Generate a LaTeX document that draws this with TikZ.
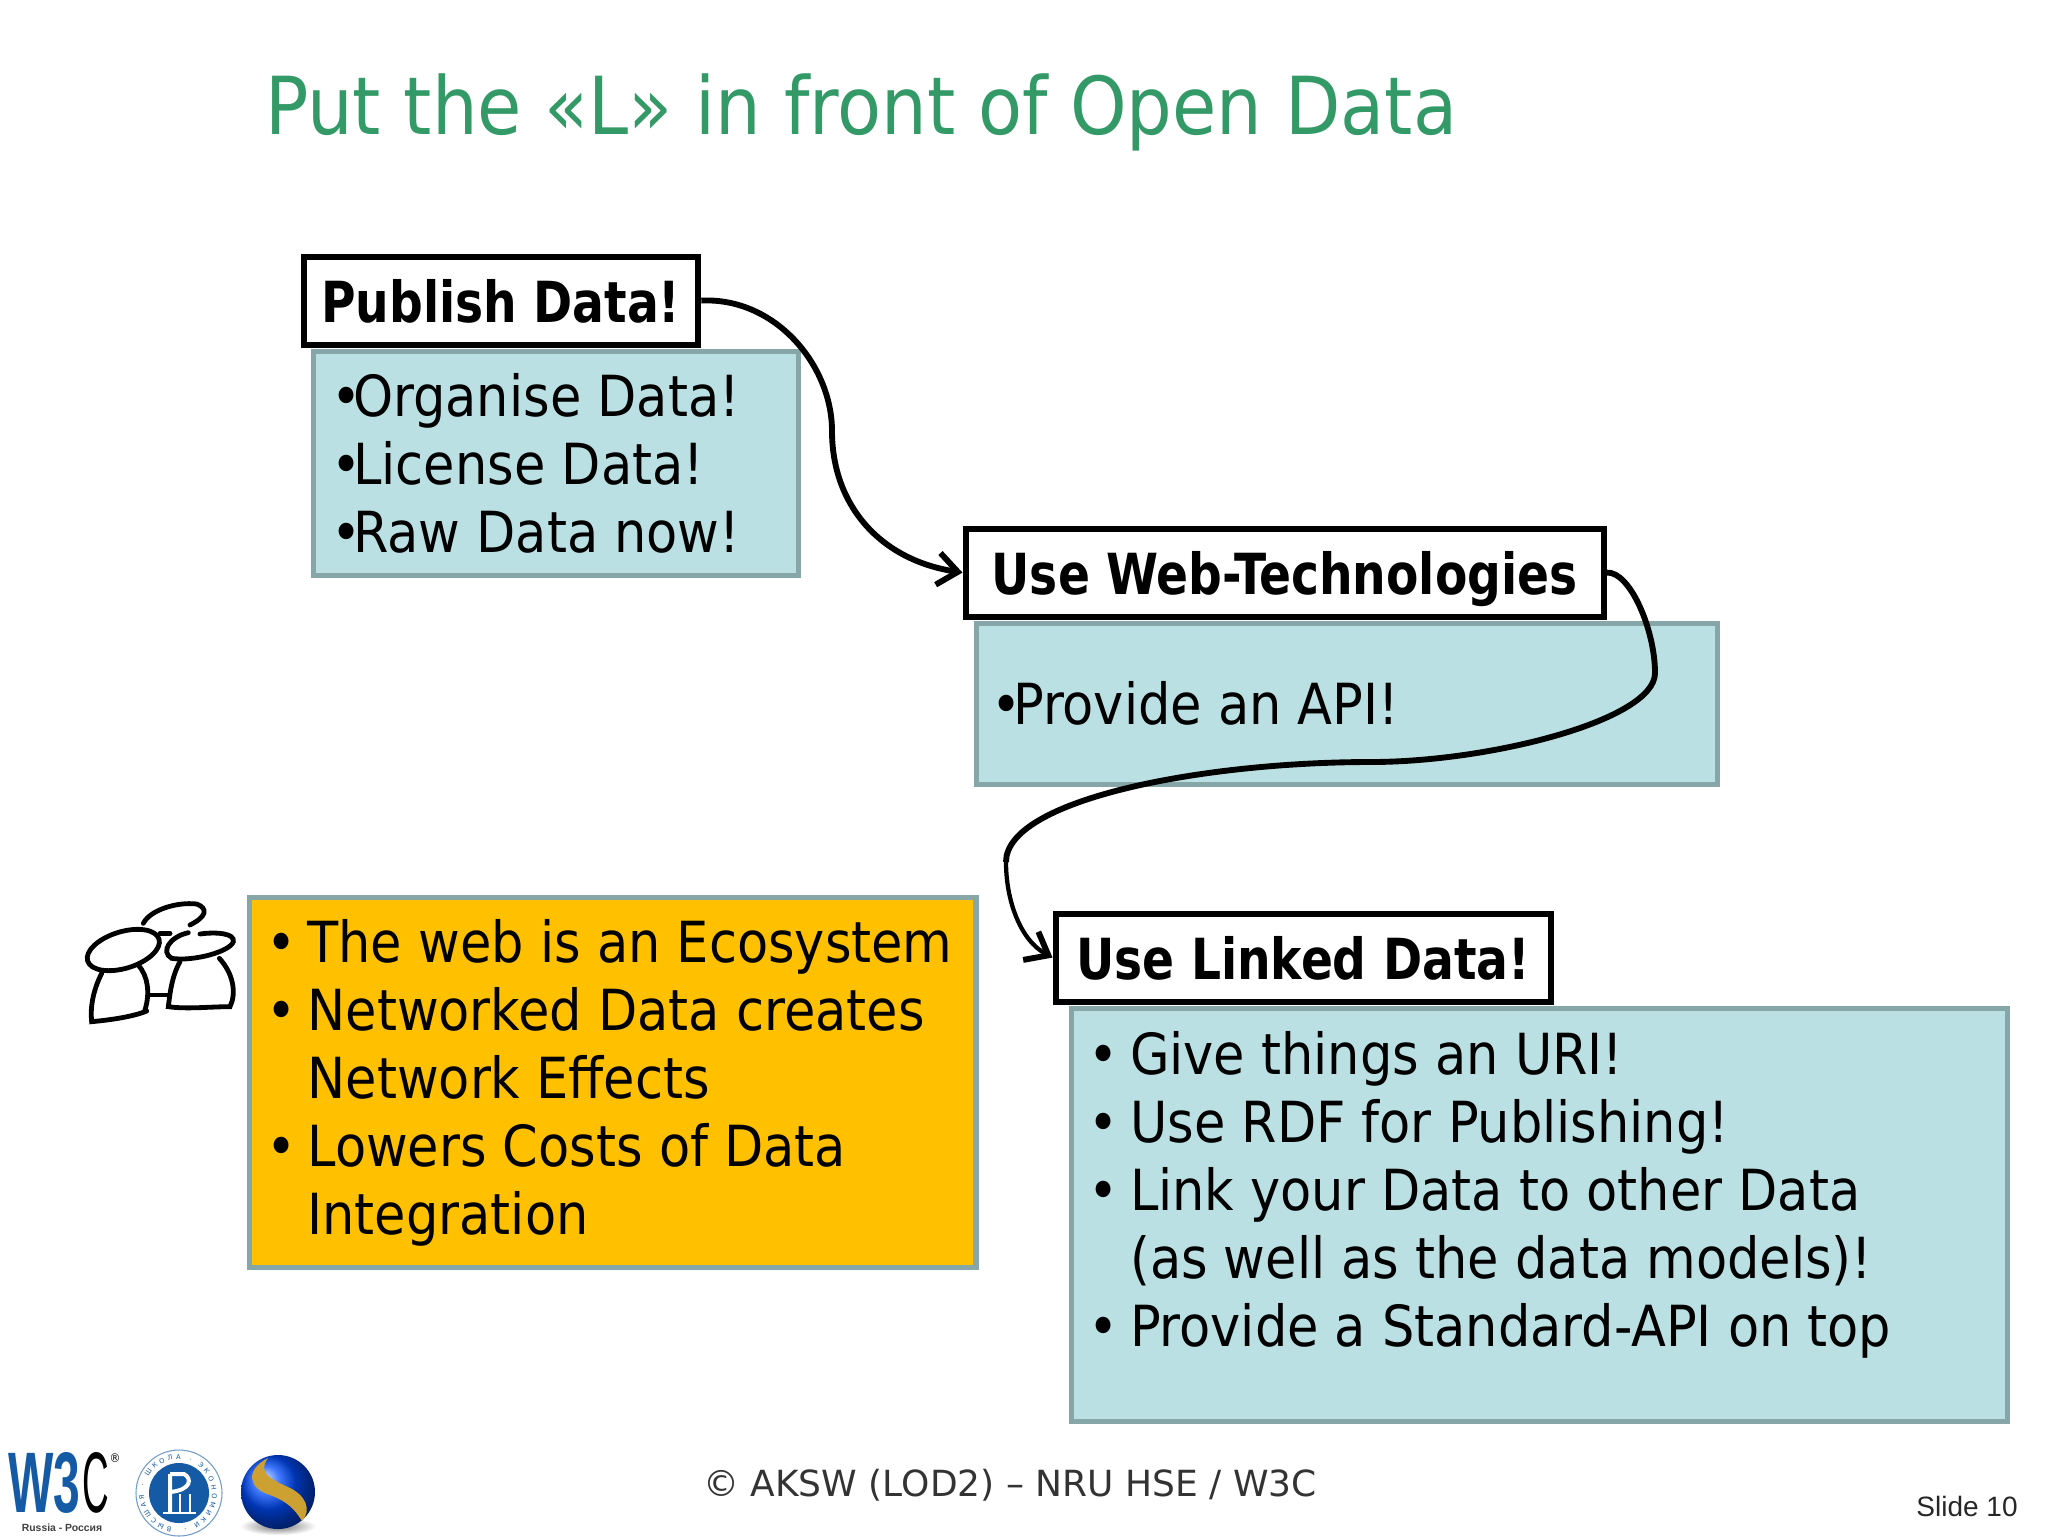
\documentclass[tikz,border=0pt]{standalone}
\usepackage{fontspec}
\setmainfont{DejaVu Sans Condensed}
\newfontfamily\headfont[FakeStretch=0.925]{DejaVu Sans Condensed Bold}
\newfontfamily\footfont{DejaVu Sans}
\newfontfamily\slidefont{Liberation Sans}
\usetikzlibrary{arrows.meta,decorations.text}
\definecolor{titlegreen}{RGB}{51,153,102}
\definecolor{tealfill}{RGB}{187,224,227}
\definecolor{tealedge}{RGB}{134,166,168}
\definecolor{orangefill}{RGB}{255,192,0}
\definecolor{logoblue}{RGB}{20,90,165}
\definecolor{swooshgold}{RGB}{205,160,50}
\newlength{\bulletw}
\setlength{\bulletw}{31pt}
\newcommand{\bitem}{\makebox[\bulletw][l]{•}}
\newcommand{\bcont}{\hspace*{\bulletw}}
\newcommand{\tightb}{\makebox[16.5pt][l]{•}}
\tikzset{
  headbox/.style={draw=black,fill=white,line width=4.6pt,anchor=north west,minimum height=66pt,text depth=0pt,inner sep=0pt,font=\headfont\fontsize{42.5}{51}\selectfont},
  databox/.style={draw=tealedge,fill=tealfill,line width=4pt,anchor=north west,inner sep=0pt},
  bodytext/.style={anchor=north west,inner sep=0pt,align=left,font=\fontsize{42.5}{51}\selectfont},
  linkline/.style={line width=4.4pt,-{Straight Barb[length=15pt,width=24pt,line width=4.4pt]}},
  doodle/.style={line width=3.6pt,line cap=round},
}
\begin{document}
\begin{tikzpicture}[x=0.75pt,y=0.75pt,yscale=-1,xscale=1]
\useasboundingbox (0,0) rectangle (2048,1536);

% Title
\node [anchor=base west,inner sep=0pt,text=titlegreen,font=\fontsize{60}{72}\selectfont] (title) at (265,134) {Put the «L» in front of Open Data};

% Boxes
\node [databox,minimum width=363.75pt,minimum height=168pt] (organise) at (310.5,348.5) {};
\node [headbox,minimum width=296pt] (publish) at (300.5,253.5) {Publish Data!};
\node [databox,minimum width=556pt,minimum height=121pt] (api) at (973.5,620.5) {};
\node [headbox,minimum width=478.5pt] (webtech) at (962.5,525.5) {Use Web-Technologies};
\node [databox,minimum width=702pt,minimum height=310pt] (uri) at (1068.5,1005.5) {};
\node [headbox,minimum width=371.5pt] (linked) at (1052.5,910.5) {Use Linked Data!};
\node [databox,fill=orangefill,minimum width=545pt,minimum height=277.5pt] (eco) at (246.5,894.5) {};

% Box texts
\node [bodytext] (organisetext) at (331,373.5) {\tightb Organise Data!\\\tightb License Data!\\\tightb Raw Data now!};
\node [bodytext] (apitext) at (991,681.5) {\tightb Provide an API!};
\node [bodytext] (ecotext) at (266,919.5) {\bitem The web is an Ecosystem\\\bitem Networked Data creates\\\bcont Network Effects\\\bitem Lowers Costs of Data\\\bcont Integration};
\node [bodytext] (uritext) at (1088.5,1031.5) {\bitem Give things an URI!\\\bitem Use RDF for Publishing!\\\bitem Link your Data to other Data\\\bcont (as well as the data models)!\\\bitem Provide a Standard-API on top};

% Curve Lines
\coordinate (bendone) at (832,431);
\draw [linkline] (publish.east) .. controls (775,297) and (832,365) .. (bendone) .. controls (832,505) and (880,560) .. (webtech.west);
\coordinate (bendtwo) at (1655,673);
\coordinate (bendmid) at (1371,762);
\coordinate (bendthree) at (1006,862);
\draw [line width=4.4pt] (webtech.east) .. controls (1630,571) and (1655,630) .. (bendtwo) .. controls (1655,720) and (1490,762) .. (bendmid) .. controls (1200,762) and (1006,800) .. (bendthree);
\draw [linkline,line width=3.2pt] (bendthree) .. controls (1006,900) and (1020,940) .. (linked.west);

% Footer
\node [inner sep=0pt,text=black!80,font=\footfont\fontsize{27}{32}\selectfont] (copyright) at (1010,1485) {© AKSW (LOD2) – NRU HSE / W3C};
\node [inner sep=0pt,text=black!85,font=\slidefont\fontsize{21}{25}\selectfont] (slideno) at (1967,1506) {Slide 10};

% People sketch
\begin{scope}[shift={(60,880)},scale=1/3,doodle]
\draw (250,130) .. controls (270,90) and (350,65) .. (410,72) .. controls (445,85) and (440,110) .. (390,135);
\draw [rotate around={-17:(190,210)}] (190,210) ellipse (112 and 55);
\draw (125,280) .. controls (100,330) and (90,380) .. (95,425) .. controls (150,420) and (220,410) .. (260,393);
\draw (235,255) .. controls (265,290) and (270,340) .. (255,390);
\draw (265,345) -- (325,345);
\draw (300,160) -- (330,160);
\draw (385,158) .. controls (330,170) and (300,215) .. (335,235) .. controls (400,245) and (510,215) .. (520,185) .. controls (525,160) and (470,155) .. (420,162);
\draw (360,245) .. controls (335,290) and (330,340) .. (325,380) .. controls (380,388) and (450,380) .. (510,380) .. controls (530,340) and (520,280) .. (478,235);
\end{scope}

% W3C logo
\node [anchor=north west,inner sep=0pt,text=logoblue] (wthree) at (8,1452) {\resizebox{54pt}{45pt}{\slidefont\bfseries W3}};
\node [anchor=north west,inner sep=0pt] (wc) at (82,1452) {\resizebox{20pt}{45pt}{\slidefont C}};
\node [inner sep=0pt,font=\fontsize{9}{10}\selectfont] (wreg) at (115,1458) {®};
\node [inner sep=0pt,text=black!75,font=\slidefont\bfseries\fontsize{7.8}{9}\selectfont] (wrussia) at (62,1528) {Russia - Россия};

% HSE logo
\draw [logoblue!60,fill=white,line width=0.8pt] (179,1493) circle (43);
\fill [logoblue] (179,1493) circle (30);
\path [postaction={decorate},decoration={text along path,text align={fit to path},text={|\footfont\fontsize{5}{6}\selectfont\color{logoblue}|ВЫСШАЯ · ШКОЛА · ЭКОНОМИКИ ·}}] (172,1527) arc (100:440:34);
\draw [white,line width=3pt] (170,1474) -- (170,1513) (170,1474) -- (184,1474) .. controls (192,1478) and (192,1490) .. (170,1492);
\draw [white,line width=2pt] (163,1513) -- (196,1513) (180,1494) -- (180,1513) (190,1494) -- (190,1513);

% Sphere logo
\shade [inner color=black!55,outer color=white] (278,1526) ellipse (38 and 9);
\shade [ball color=blue!70!cyan] (278,1492) circle (37);
\fill [swooshgold] (268,1458) .. controls (245,1470) and (248,1488) .. (270,1495) .. controls (292,1503) and (298,1515) .. (302,1521) .. controls (312,1510) and (306,1495) .. (288,1487) .. controls (268,1478) and (258,1472) .. (268,1458) -- cycle;
\end{tikzpicture}
\end{document}
